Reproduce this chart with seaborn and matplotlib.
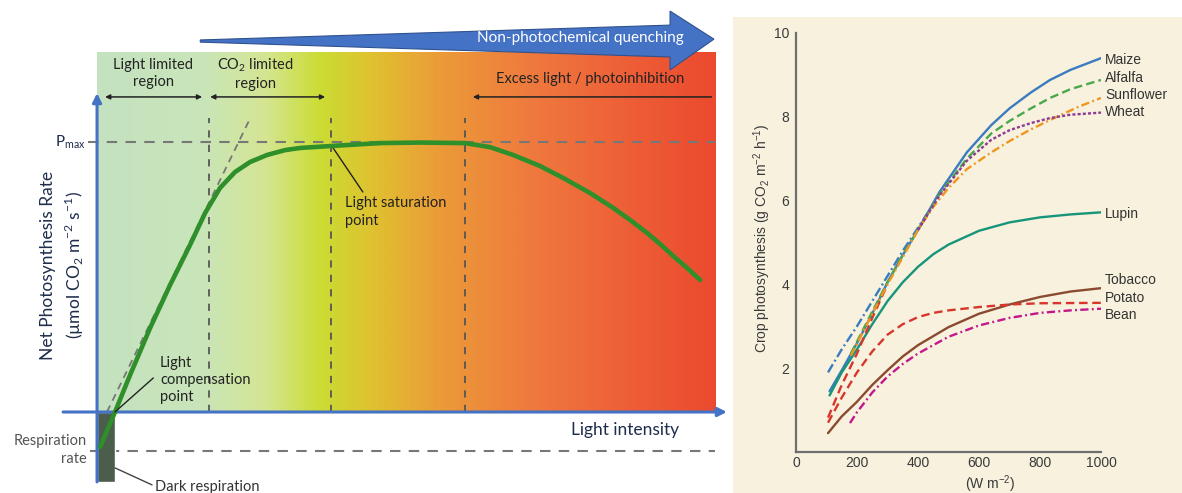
import numpy as np
import pandas as pd
import matplotlib
matplotlib.use("Agg")
import matplotlib.pyplot as plt
import seaborn as sns
from matplotlib.colors import LinearSegmentedColormap
from matplotlib.patches import Polygon, Rectangle

sns.set_style("white")
plt.rcParams['font.family'] = ['Lato', 'DejaVu Sans']

# ---------------- data: left conceptual light-response curve ----------------
light = [0.49, 2.91, 5.34, 8.58, 11.81, 15.05, 17.48, 19.90, 22.33, 24.76, 27.51,
         30.42, 32.85, 37.70, 45.79, 52.27, 59.55, 63.59, 67.31, 71.68, 75.40,
         79.77, 83.50, 86.25, 89.00, 91.10, 93.20, 95.47, 97.57]
rate = [-13.0, 0.0, 13.7, 31.1, 47.0, 61.9, 73.7, 83.0, 88.9, 92.6, 95.2,
        97.0, 97.8, 98.5, 99.6, 99.8, 99.6, 98.1, 95.2, 91.1, 86.7,
        81.1, 75.6, 71.1, 66.3, 62.2, 57.8, 53.3, 48.9]
p_max = 100
resp_rate = -14.4
dark_resp = -25.9
region_bounds = [18.1, 37.9, 59.5]

# ---------------- data: right crop photosynthesis curves ----------------
maize_x = [110, 150, 200, 250, 300, 350, 400, 470, 560, 640, 700, 770, 833, 900, 1000]
maize_y = [1.45, 1.95, 2.6, 3.3, 4.05, 4.7, 5.3, 6.2, 7.15, 7.8, 8.2, 8.58, 8.88, 9.12, 9.4]
maize_low_x = [105, 150, 200, 250, 300, 350, 400, 440]
maize_low_y = [1.9, 2.45, 3.0, 3.6, 4.2, 4.8, 5.35, 5.8]
alfalfa_x = [180, 250, 300, 350, 400, 470, 560, 640, 700, 770, 833, 900, 1000]
alfalfa_y = [2.35, 3.35, 4.05, 4.7, 5.3, 6.15, 7.0, 7.6, 7.9, 8.2, 8.45, 8.66, 8.88]
sunflower_x = [180, 250, 300, 350, 400, 450, 500, 560, 640, 700, 770, 855, 930, 1000]
sunflower_y = [2.3, 3.3, 4.0, 4.65, 5.3, 5.85, 6.3, 6.75, 7.15, 7.42, 7.7, 8.0, 8.25, 8.45]
wheat_x = [400, 470, 560, 640, 700, 770, 833, 900, 1000]
wheat_y = [5.3, 6.12, 6.95, 7.45, 7.68, 7.85, 7.97, 8.05, 8.1]
lupin_x = [110, 150, 200, 250, 300, 350, 400, 450, 500, 600, 700, 800, 900, 1000]
lupin_y = [1.35, 1.9, 2.45, 3.05, 3.6, 4.05, 4.42, 4.72, 4.95, 5.28, 5.48, 5.6, 5.67, 5.72]
potato_x = [105, 150, 200, 250, 300, 350, 400, 450, 500, 600, 700, 800, 1000]
potato_y = [0.7, 1.3, 1.9, 2.4, 2.8, 3.05, 3.22, 3.32, 3.38, 3.46, 3.52, 3.55, 3.56]
potato_low_x = [105, 150, 200, 250, 300]
potato_low_y = [0.82, 1.6, 2.35, 3.2, 4.0]
tobacco_x = [105, 150, 200, 250, 300, 350, 400, 500, 600, 700, 800, 900, 1000]
tobacco_y = [0.45, 0.85, 1.2, 1.6, 1.95, 2.28, 2.55, 2.98, 3.3, 3.52, 3.7, 3.83, 3.91]
bean_x = [177, 200, 250, 300, 350, 400, 500, 600, 700, 800, 900, 1000]
bean_y = [0.69, 0.95, 1.42, 1.8, 2.1, 2.35, 2.75, 3.02, 3.2, 3.32, 3.38, 3.42]

crop_names = ["Maize", "Alfalfa", "Sunflower", "Wheat", "Lupin", "Tobacco", "Potato", "Bean"]
crop_label_y = [9.36, 8.93, 8.52, 8.11, 5.68, 4.1, 3.67, 3.27]
x_ticks = [0, 200, 400, 600, 800, 1000]
y_ticks = [2, 4, 6, 8, 10]

# ---------------- figure ----------------
fig = plt.figure(figsize=(11.82, 4.93), dpi=100)
fig.patch.set_facecolor("white")

# ===== left panel =====
axL = fig.add_axes([0, 0, 730 / 1182, 1])
axL.axis("off")

grad_pos = [0, 0.17, 0.27, 0.36, 0.45, 0.55, 0.7, 0.85, 1]
grad_col = ['#c4e2c0', '#c9e5b9', '#d4e693', '#cbdc34', '#e0c030', '#eb9c38',
            '#ef7a3e', '#ee6038', '#eb4a2e']
cmap = LinearSegmentedColormap.from_list("lightgrad", list(zip(grad_pos, grad_col)))
axL.imshow(np.linspace(0, 1, 512)[None, :], extent=[0, 100, 0, 133.3],
           aspect="auto", cmap=cmap, zorder=0, interpolation="bilinear")

blue = "#4472c4"
navy = "#1f2d4d"
dgray = "#555555"

# big tapered arrow: Non-photochemical quenching
arrow_x = [16.7, 92.7, 92.7, 99.8, 92.7, 92.7, 16.7]
arrow_y = [137.8, 143.3, 148.5, 138.1, 126.7, 131.5, 137.0]
axL.add_patch(Polygon(list(zip(arrow_x, arrow_y)), closed=True, facecolor=blue,
                      edgecolor="#2f528f", lw=0.8, zorder=6))
axL.text(78.2, 138.6, "Non-photochemical quenching", color="white", fontsize=11,
         ha="center", va="center", zorder=7)

# reference dashed lines
axL.plot([-1.5, 100], [p_max, p_max], color="#777777", lw=1.5, dashes=(5, 4), zorder=2)
axL.plot([-1.1, 100], [resp_rate, resp_rate], color="#777777", lw=1.5, dashes=(5, 4), zorder=2)
for xb in region_bounds:
    axL.plot([xb, xb], [0, 108.9], color="#555555", lw=1.3, dashes=(4, 4), zorder=2)
axL.plot([1.6, 24.8], [0, 108.9], color="#777777", lw=1.3, dashes=(4, 3), zorder=2)

# dark respiration bar
axL.bar([1.45], [dark_resp], width=2.9, bottom=0, color="#4b5d4b", zorder=3)

# axes
axL.annotate("", xy=(0, 118.1), xytext=(0, dark_resp),
             arrowprops=dict(arrowstyle="-|>", color=blue, lw=2.2, mutation_scale=13,
                             shrinkA=0, shrinkB=0), zorder=4)
axL.annotate("", xy=(101.9, 0), xytext=(-5.5, 0),
             arrowprops=dict(arrowstyle="-|>", color=blue, lw=2.2, mutation_scale=13,
                             shrinkA=0, shrinkB=0), zorder=4)

# curve
sns.lineplot(x=light, y=rate, ax=axL, color="#2f8f2a", lw=3.3, zorder=5,
             solid_joinstyle="round", solid_capstyle="round")

# region arrows
ap2 = dict(arrowstyle="<|-|>", color="#222222", lw=1.1, mutation_scale=7, shrinkA=0, shrinkB=0)
axL.annotate("", xy=(17.0, 116.7), xytext=(1.3, 116.7), arrowprops=ap2)
axL.annotate("", xy=(36.9, 116.7), xytext=(18.3, 116.7), arrowprops=ap2)
axL.annotate("", xy=(60.8, 116.7), xytext=(99.4, 116.7),
             arrowprops=dict(arrowstyle="-|>", color="#222222", lw=1.1, mutation_scale=7,
                             shrinkA=0, shrinkB=0))

tk = dict(color="#222222", fontsize=10.5, ha="center", va="center", linespacing=1.25)
axL.text(9.1, 125.4, "Light limited\nregion", **tk)
axL.text(25.6, 125.4, "CO$_\\mathregular{2}$ limited\nregion", **tk)
axL.text(79.8, 123.3, "Excess light / photoinhibition", **tk)

axL.text(-1.8, 100, "P$_\\mathregular{max}$", color=navy, fontsize=11, ha="right", va="center")
axL.text(-7.9, 54.4, "Net Photosynthesis Rate", color=navy, fontsize=12.5, rotation=90,
         ha="center", va="center")
axL.text(-3.6, 54.4, "(µmol CO$_\\mathregular{2}$ m$^\\mathregular{-2}$ s$^\\mathregular{-1}$)",
         color=navy, fontsize=12.5, rotation=90, ha="center", va="center")
axL.text(85.4, -6.7, "Light intensity", color=navy, fontsize=12.5, ha="center", va="center")
axL.text(-1.6, -14.1, "Respiration\nrate", color=dgray, fontsize=10.5, ha="right",
         va="center", linespacing=1.3)

axL.plot([38.1, 43.0], [98.1, 81.5], color="#222222", lw=1)
axL.text(40.1, 74.1, "Light saturation\npoint", color="#222222", fontsize=10.5,
         ha="left", va="center", linespacing=1.3)
axL.plot([2.9, 9.1], [0, 12.6], color="#222222", lw=1, zorder=6)
axL.text(10.2, 11.9, "Light\ncompensation\npoint", color="#222222", fontsize=10.5,
         ha="left", va="center", linespacing=1.3)
axL.plot([2.9, 8.9], [-20.7, -27.0], color="#444444", lw=1, zorder=6)
axL.text(9.4, -27.8, "Dark respiration", color="#333333", fontsize=10.5,
         ha="left", va="center")

axL.set_xlim(-15.7, 102.4)
axL.set_ylim(-30, 152.6)

# ===== right panel =====
fig.patches.append(Rectangle((733 / 1182, 0), 1 - 733 / 1182, 1 - 17 / 493,
                             transform=fig.transFigure, facecolor="#f7f1de",
                             edgecolor="none", zorder=-1))
axR = fig.add_axes([796 / 1182, 41 / 493, 305 / 1182, 419 / 493])
axR.set_facecolor("none")

rfont = "Liberation Sans"
series = [
    (maize_x, maize_y, "#3b7bbf", "-"),
    (maize_low_x, maize_low_y, "#3b7bbf", (0, (4, 1.4, 0.8, 1.4))),
    (lupin_x, lupin_y, "#17957b", "-"),
    (tobacco_x, tobacco_y, "#8b4a2f", "-"),
    (potato_x, potato_y, "#d8362c", (0, (3.6, 2.0))),
    (potato_low_x, potato_low_y, "#d8362c", (0, (3.6, 2.0))),
    (bean_x, bean_y, "#c2188c", (0, (3.5, 1.4, 0.8, 1.4))),
    (alfalfa_x, alfalfa_y, "#4aa84c", (0, (3.6, 1.8))),
    (sunflower_x, sunflower_y, "#f0961e", (0, (3.5, 1.4, 0.8, 1.4))),
    (wheat_x, wheat_y, "#8e3b93", (0, (1.3, 0.9))),
]
for xs, ys, col, ls in series:
    sns.lineplot(x=xs, y=ys, ax=axR, color=col, lw=1.7, linestyle=ls,
                 solid_joinstyle="round", dash_joinstyle="round")

for name, yy in zip(crop_names, crop_label_y):
    axR.text(1013, yy, name, fontsize=10, color="#333333", family=rfont,
             ha="left", va="center", clip_on=False)

axR.set_xlim(0, 1000)
axR.set_ylim(0, 10)
axR.set_xticks(x_ticks)
axR.set_yticks(y_ticks)
axR.set_xticklabels([str(v) for v in x_ticks])
axR.set_yticklabels([str(v) for v in y_ticks])
for s in ["top", "right"]:
    axR.spines[s].set_visible(False)
for s in ["left", "bottom"]:
    axR.spines[s].set_color("#6e6e6e")
    axR.spines[s].set_linewidth(1.6)
axR.tick_params(direction="in", length=6, width=1.3, color="#6e6e6e",
                labelsize=10, labelcolor="#3a3a3a", pad=5)
axR.tick_params(axis="x", pad=3)
for lab in axR.get_xticklabels() + axR.get_yticklabels():
    lab.set_family(rfont)
axR.set_xlabel("")
axR.set_ylabel("")
axR.text(-0.111, 0.51, "Crop photosynthesis (g CO$_\\mathregular{2}$ m$^\\mathregular{-2}$ h$^\\mathregular{-1}$)",
         transform=axR.transAxes, rotation=90, ha="center", va="center",
         fontsize=10, color="#3a3a3a", family=rfont)
axR.text(636, -0.76, "(W m$^\\mathregular{-2}$)", ha="center", va="center", fontsize=10,
         color="#3a3a3a", family=rfont, clip_on=False)

fig.savefig("out.png", dpi=100)
